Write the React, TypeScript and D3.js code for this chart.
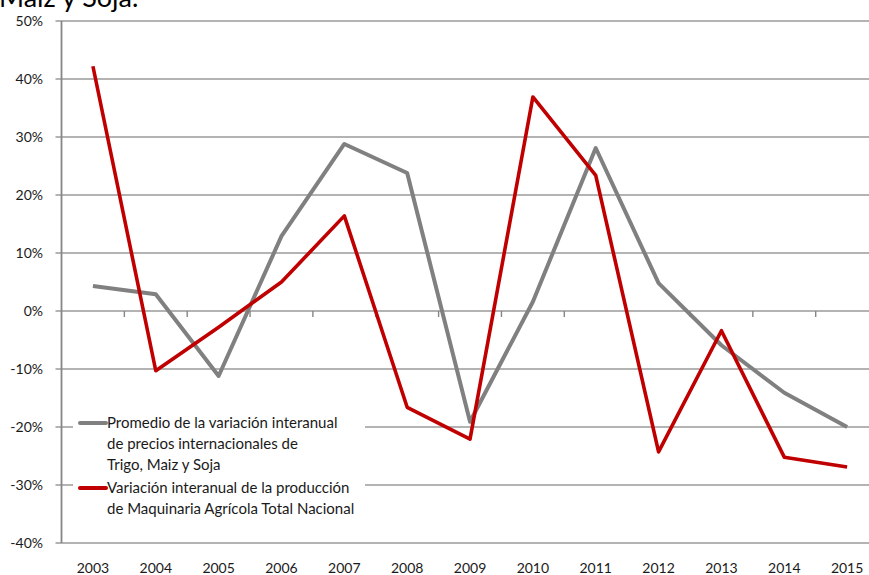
import { useEffect, useRef } from "react";
import * as d3 from "d3";

const years = [2003, 2004, 2005, 2006, 2007, 2008, 2009, 2010, 2011, 2012, 2013, 2014, 2015];
const preciosGranos = [4.3, 2.9, -11.2, 12.9, 28.8, 23.8, -19.1, 1.6, 28.1, 4.8, -5.9, -14.1, -20.0];
const maquinaria = [42.2, -10.3, -2.8, 5.0, 16.4, -16.6, -22.1, 36.9, 23.4, -24.3, -3.4, -25.2, -26.9];
const yTicks = [50, 40, 30, 20, 10, 0, -10, -20, -30, -40];

const seriesNames = [
  ["Promedio de la variación interanual", "de precios internacionales de", "Trigo, Maiz y Soja"],
  ["Variación interanual de la producción", "de Maquinaria Agrícola Total Nacional"],
];

const GRAY = "#808080";
const RED = "#c00000";
const FONT = "Lato, 'Open Sans', sans-serif";

export default function App() {
  const svgRef = useRef<SVGSVGElement>(null);

  useEffect(() => {
    if (!svgRef.current) return;
    const width = 869;
    const height = 575;
    const left = 61.5;

    const svg = d3.select(svgRef.current);
    svg.selectAll("*").remove();
    svg.attr("viewBox", `0 0 ${width} ${height}`);

    const x = d3
      .scaleBand<number>()
      .domain(years)
      .range([left, left + years.length * 62.85]);
    const cx = (yr: number) => x(yr)! + x.bandwidth() / 2;

    const y = d3.scaleLinear().domain([-40, 50]).range([543, 21]);

    // titulo cortado arriba
    svg
      .append("text")
      .attr("x", -1)
      .attr("y", 7)
      .attr("font-family", FONT)
      .attr("font-size", 27)
      .attr("fill", "#000")
      .text("Maiz y Soja.");

    // grilla
    svg
      .append("g")
      .selectAll("line")
      .data(yTicks)
      .join("line")
      .attr("x1", left - 6)
      .attr("x2", width)
      .attr("y1", (d) => y(d))
      .attr("y2", (d) => y(d))
      .attr("stroke", "#9a9a9a")
      .attr("stroke-width", 1.4);

    // etiquetas eje Y
    svg
      .append("g")
      .selectAll("text")
      .data(yTicks)
      .join("text")
      .attr("x", 43)
      .attr("y", (d) => y(d) + 5)
      .attr("text-anchor", "end")
      .attr("font-family", FONT)
      .attr("font-size", 14)
      .attr("fill", "#1a1a1a")
      .text((d) => `${d}%`);

    // eje Y
    svg
      .append("line")
      .attr("x1", left)
      .attr("x2", left)
      .attr("y1", y(50))
      .attr("y2", y(-40))
      .attr("stroke", "#868686")
      .attr("stroke-width", 1.8);

    // ticks de categoria sobre 0%
    svg
      .append("g")
      .selectAll("line")
      .data(years.slice(1))
      .join("line")
      .attr("x1", (d) => x(d)!)
      .attr("x2", (d) => x(d)!)
      .attr("y1", y(0))
      .attr("y2", y(0) + 6)
      .attr("stroke", "#868686")
      .attr("stroke-width", 1.4);

    // etiquetas eje X
    svg
      .append("g")
      .selectAll("text")
      .data(years)
      .join("text")
      .attr("x", (d) => cx(d))
      .attr("y", 573)
      .attr("text-anchor", "middle")
      .attr("font-family", FONT)
      .attr("font-size", 14)
      .attr("fill", "#1a1a1a")
      .text((d) => d);

    const line = d3
      .line<number>()
      .x((_, i) => cx(years[i]))
      .y((d) => y(d));

    svg
      .append("path")
      .datum(preciosGranos)
      .attr("d", line)
      .attr("fill", "none")
      .attr("stroke", GRAY)
      .attr("stroke-width", 4)
      .attr("stroke-linejoin", "round");

    svg
      .append("path")
      .datum(maquinaria)
      .attr("d", line)
      .attr("fill", "none")
      .attr("stroke", RED)
      .attr("stroke-width", 3.6)
      .attr("stroke-linejoin", "round");

    // leyenda
    const legend = svg.append("g");
    legend
      .append("rect")
      .attr("x", 73)
      .attr("y", 404)
      .attr("width", 292)
      .attr("height", 128)
      .attr("fill", "#fff");

    const colors = [GRAY, RED];
    const startY = [423, 488];
    seriesNames.forEach((lines, k) => {
      legend
        .append("line")
        .attr("x1", 80)
        .attr("x2", 106)
        .attr("y1", startY[k])
        .attr("y2", startY[k])
        .attr("stroke", colors[k])
        .attr("stroke-width", 4)
        .attr("stroke-linecap", "round");
      lines.forEach((t, j) => {
        legend
          .append("text")
          .attr("x", 107)
          .attr("y", startY[k] + 5 + j * 21)
          .attr("font-family", FONT)
          .attr("font-size", 15)
          .attr("fill", "#1a1a1a")
          .text(t);
      });
    });
  }, []);

  return (
    <div style={{ position: "absolute", left: 0, top: 0, width: 869, height: 575, overflow: "hidden" }}>
      <svg ref={svgRef} width={869} height={575} style={{ display: "block" }} />
    </div>
  );
}
